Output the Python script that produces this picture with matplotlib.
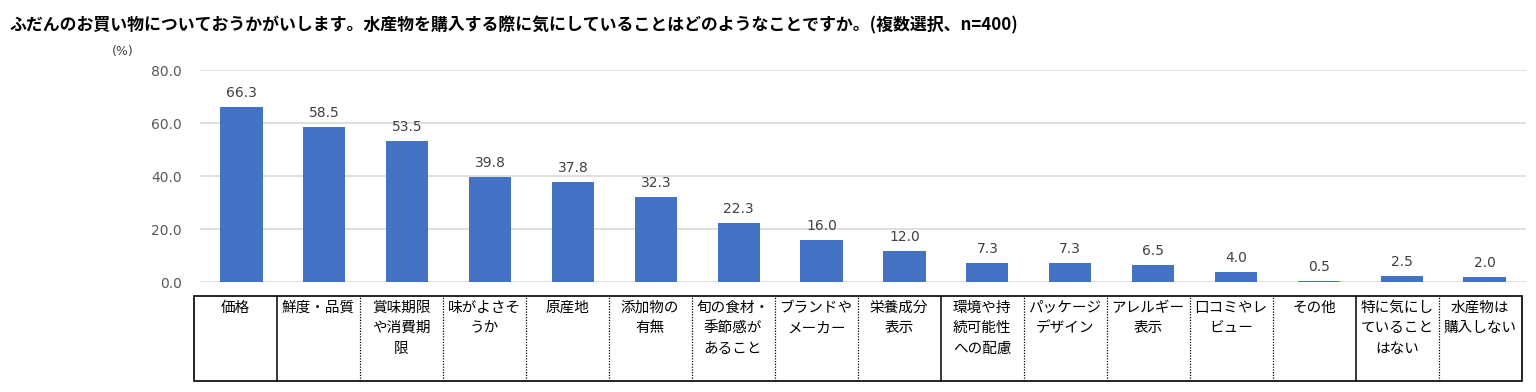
import matplotlib
matplotlib.use("Agg")
import matplotlib.pyplot as plt
from matplotlib.patches import Rectangle

plt.rcParams['font.family'] = ['Noto Sans CJK JP', 'DejaVu Sans']

title = "ふだんのお買い物についておうかがいします。水産物を購入する際に気にしていることはどのようなことですか。(複数選択、n=400)"
categories = [
    "価格", "鮮度・品質", "賞味期限\nや消費期\n限", "味がよさそ\nうか", "原産地",
    "添加物の\n有無", "旬の食材・\n季節感が\nあること", "ブランドや\nメーカー", "栄養成分\n表示",
    "環境や持\n続可能性\nへの配慮", "パッケージ\nデザイン", "アレルギー\n表示", "口コミやレ\nビュー",
    "その他", "特に気にし\nていること\nはない", "水産物は\n購入しない",
]
values = [66.3, 58.5, 53.5, 39.8, 37.8, 32.3, 22.3, 16.0, 12.0, 7.3, 7.3, 6.5, 4.0, 0.5, 2.5, 2.0]
yticks = [0, 20, 40, 60, 80]
solid_after = [1, 9, 14]

W, H = 1536, 392
fig = plt.figure(figsize=(W/100, H/100), dpi=100)

def box(l, t, r, b):
    return [l/W, 1 - b/H, (r-l)/W, (b-t)/H]

ax = fig.add_axes(box(200, 70.3, 1526, 282.3))
n = len(values)
xs = list(range(n))
ax.bar(xs, values, width=0.51, color='#4472C4', zorder=3)
ax.set_xlim(-0.5, n-0.5)
ax.set_ylim(0, 80)
ax.set_yticks(yticks)
ax.set_yticklabels([f"{v:.1f}" for v in yticks], fontsize=10, color='#595959', family='DejaVu Sans')
ax.tick_params(axis='y', length=0, pad=13)
ax.tick_params(axis='x', length=0, labelbottom=False)
for s in ax.spines.values():
    s.set_visible(False)
ax.grid(axis='y', color='#D9D9D9', linewidth=1.2, zorder=0)
ax.set_axisbelow(True)
for x, v in zip(xs, values):
    ax.annotate(f"{v:.1f}", (x, v), xytext=(0, 5), textcoords='offset points',
                ha='center', va='bottom', fontsize=10, color='#404040', family='DejaVu Sans')

fig.text(112/W, 1 - 52/H, "(%)", fontsize=9, color='#404040', va='center', ha='left', family='DejaVu Sans')
fig.text(10/W, 1 - 25/H, title, fontsize=12.2, fontweight='bold', va='center', ha='left')

tx = fig.add_axes(box(193.7, 295.7, 1521.5, 381))
tx.set_xlim(0, n)
tx.set_ylim(0, 1)
tx.axis('off')
tx.add_patch(Rectangle((0, 0), n, 1, fill=False, edgecolor='black', linewidth=1.2, clip_on=False))
for k in range(1, n):
    if k in solid_after:
        tx.plot([k, k], [0, 1], color='black', linewidth=1.1, solid_capstyle='butt')
    else:
        tx.plot([k, k], [0, 1], color='black', linewidth=0.9, linestyle=(0, (1, 1.2)))
for k, c in enumerate(categories):
    tx.text(k + 0.5, 0.94, c, ha='center', va='top', multialignment='center',
            fontsize=10.5, linespacing=1.58, color='#000000')

fig.savefig("out.png", dpi=100)
